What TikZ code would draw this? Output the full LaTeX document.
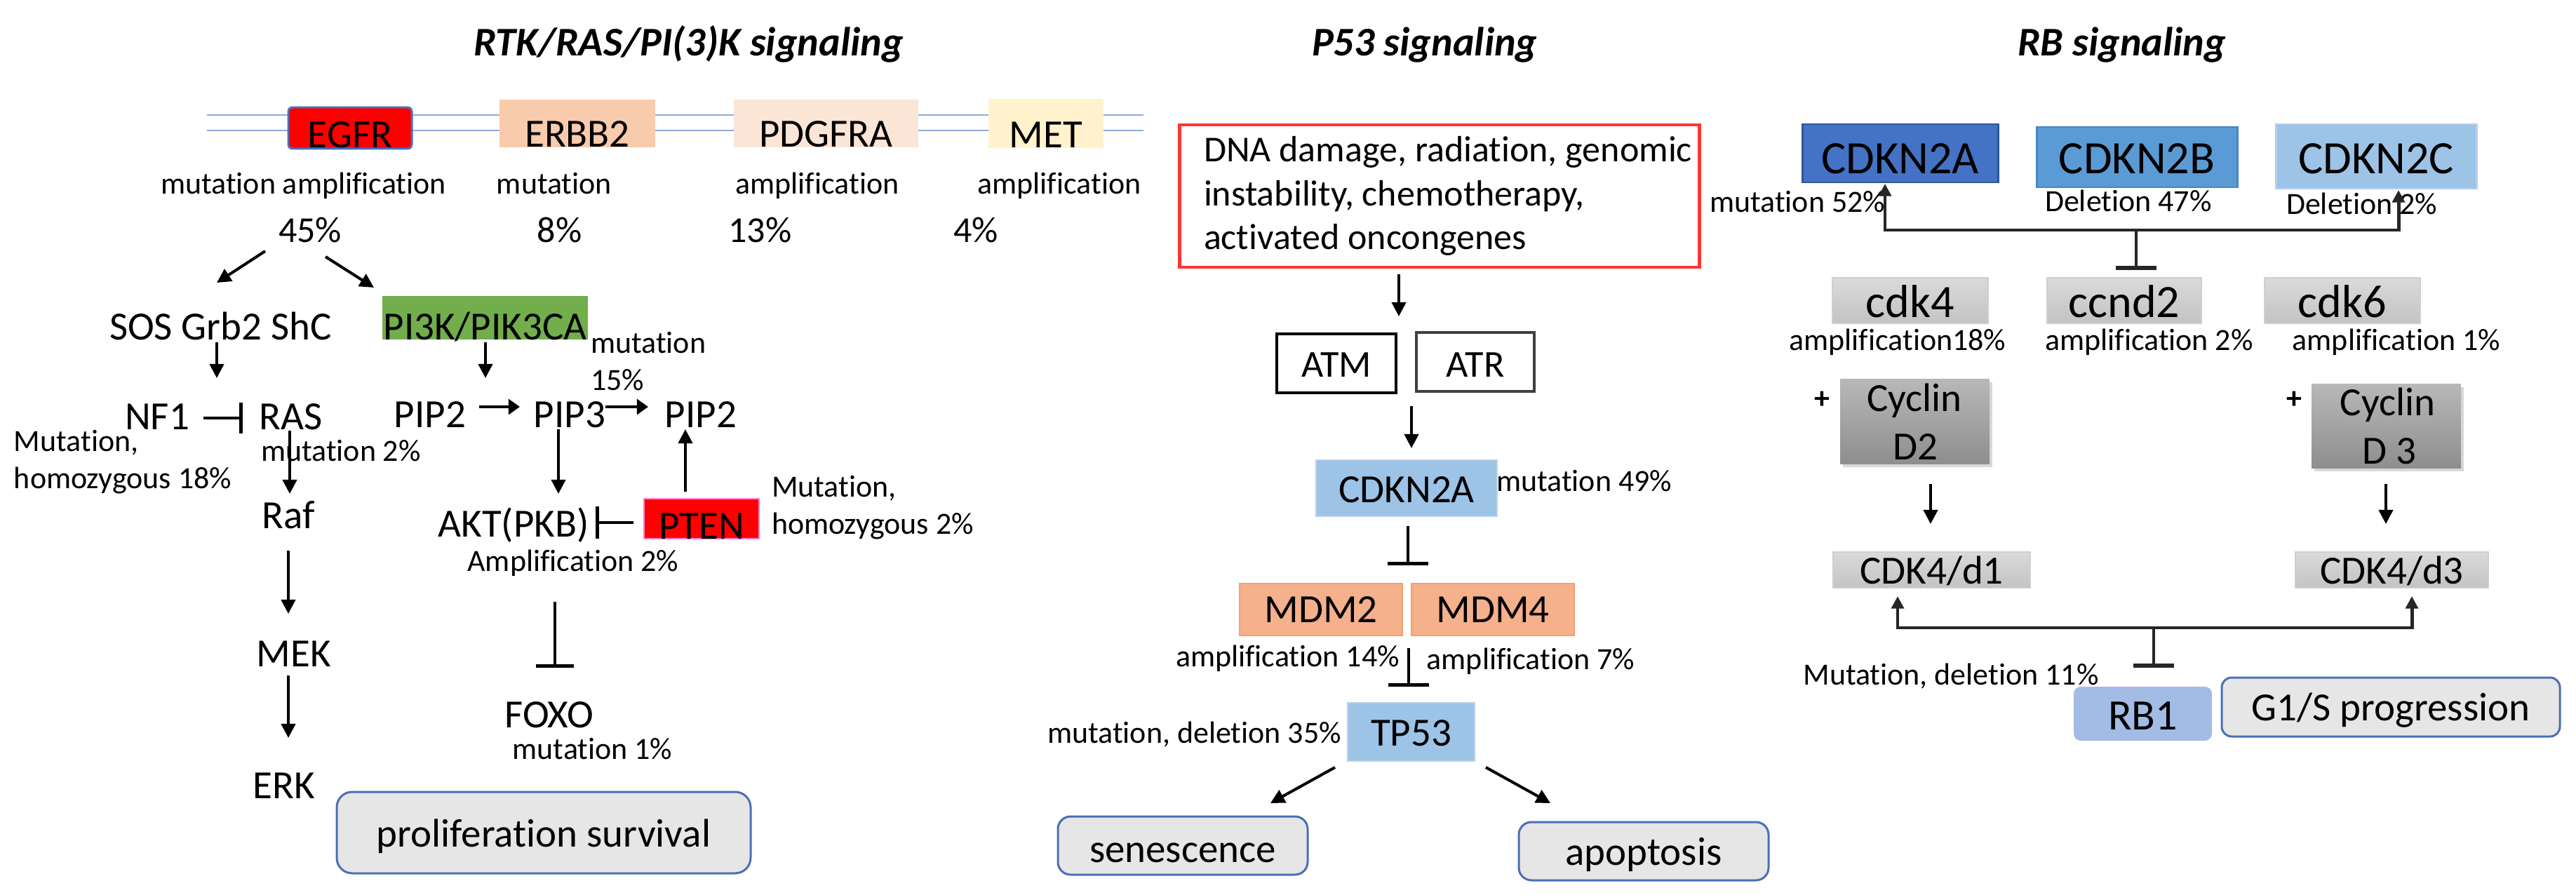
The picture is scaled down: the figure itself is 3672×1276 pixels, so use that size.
\documentclass[tikz,border=0pt]{standalone}
\usepackage{fontspec}
\setmainfont{Carlito}[Ligatures={NoCommon}]
\usetikzlibrary{arrows.meta,shadows}
\newdimen\upx \upx=0.01cm
\newcommand\fSm{\fontsize{12.5pt}{15pt}\selectfont}
\newcommand\fPc{\fontsize{14.8pt}{17.8pt}\selectfont}
\newcommand\fAt{\fontsize{15.4pt}{18.5pt}\selectfont}
\newcommand\fMd{\fontsize{16.2pt}{19.5pt}\selectfont}
\newcommand\fRb{\fontsize{17.6pt}{21pt}\selectfont}
\newcommand\fXl{\fontsize{18.8pt}{22.5pt}\selectfont}
\newcommand\fTi{\fontsize{16.5pt}{20pt}\selectfont\bfseries\itshape}
\definecolor{memb}{HTML}{8FAADC}
\definecolor{egfrB}{HTML}{4472C4}
\definecolor{erbb}{HTML}{F8CBAD}
\definecolor{pdgf}{HTML}{FBE5D6}
\definecolor{metc}{HTML}{FFF2CC}
\definecolor{pikg}{HTML}{72AE4C}
\definecolor{ptenB}{HTML}{FF80D0}
\definecolor{outB}{HTML}{4A6FB5}
\definecolor{outF}{HTML}{E7E6E6}
\definecolor{dnaR}{HTML}{FF3535}
\definecolor{ltblue}{HTML}{9DC3E6}
\definecolor{ltblueB}{HTML}{B7D1EE}
\definecolor{mdmF}{HTML}{F5B08C}
\definecolor{mdmB}{HTML}{F3A06E}
\definecolor{rbA}{HTML}{4472C4}
\definecolor{rbAB}{HTML}{2F5597}
\definecolor{rbB}{HTML}{5B9BD5}
\definecolor{rbBB}{HTML}{4A86C2}
\definecolor{rbC}{HTML}{9DC3E6}
\definecolor{rbCB}{HTML}{B4CFEE}
\definecolor{rbone}{HTML}{A3BCE6}
\definecolor{dk}{HTML}{262626}
\definecolor{gTop}{HTML}{DADADA}
\definecolor{gBot}{HTML}{C3C3C3}
\definecolor{gB}{HTML}{CFCFCF}
\definecolor{cTop}{HTML}{B8B8B8}
\definecolor{cBot}{HTML}{8E8E8E}
\begin{document}
\begin{tikzpicture}[x=0.01cm, y=-0.01cm,
  bx/.style n args={3}{minimum width=#1\upx, minimum height=#2\upx, text height=#3\upx, text depth=0pt, inner sep=0pt, outer sep=0pt, font=\fMd},
  tx/.style={inner sep=0pt, outer sep=0pt, anchor=base},
  txw/.style={inner sep=0pt, outer sep=0pt, anchor=base west},
  arr/.style={line width=1.14pt, -{Triangle[length=5.7pt,width=5.7pt]}},
  arrT/.style={line width=1.4pt, -{Triangle[length=4.6pt,width=6.2pt]}},
  inh/.style={line width=1.14pt, -{Bar[width=#1, line width=1.5pt]}},
  brk/.style={line width=1.4pt, draw=dk},
  btip/.style={-{Triangle[length=5pt,width=5pt]}},
  outbox/.style={fill=outF, draw=outB, line width=0.85pt},
  gbox/.style={top color=gTop, bottom color=gBot, draw=gB, line width=0.6pt},
  cbox/.style={top color=cTop, bottom color=cBot, drop shadow={opacity=0.3, shadow xshift=1pt, shadow yshift=-1.5pt}}
]
\fill[white] (0,0) rectangle (3672,1276);
\useasboundingbox (0,0) rectangle (3672,1276);

% ---------------- RTK / RAS / PI3K ----------------
\node[txw, font=\fTi] (t1) at (675,80) {RTK/RAS/PI(3)K signaling};
\draw[memb, line width=0.85pt] (295,164) -- (1630,164);
\draw[memb, line width=0.85pt] (295,186) -- (1630,186);
\node[bx={176}{59}{57}, fill=red, draw=egfrB, line width=0.85pt, rounded corners=6\upx] (egfr) at (499,182.5) {EGFR};
\node[bx={222}{68}{68}, fill=erbb] (erbb2) at (823,176) {ERBB2};
\node[bx={263}{66}{68}, fill=pdgf] (pdgfra) at (1177.5,176) {PDGFRA};
\node[bx={164}{66}{70}, fill=metc] (met) at (1491,176) {MET};
\node[tx, font=\fSm] (l1) at (432.5,277) {mutation amplification};
\node[tx, font=\fSm] (l2) at (790,277) {mutation};
\node[tx, font=\fSm] (l3) at (1165,277) {amplification};
\node[tx, font=\fSm] (l4) at (1510,277) {amplification};
\node[tx, font=\fPc] (p45) at (442,346) {45\%};
\node[tx, font=\fPc] (p8) at (797.5,346) {8\%};
\node[tx, font=\fPc] (p13) at (1083.5,346) {13\%};
\node[tx, font=\fPc] (p4) at (1391,346) {4\%};

\node[tx, font=\fMd] (sos) at (314.5,484) {SOS Grb2 ShC};
\node[bx={293}{60}{62}, fill=pikg] (pi3k) at (691.5,453) {PI3K/PIK3CA};
\node[txw, font=\fSm] (pm1) at (842,503) {mutation};
\node[txw, font=\fSm] (pm2) at (842,556) {15\%};
\node[tx, font=\fMd] (nf1) at (224,612) {NF1};
\node[tx, font=\fMd] (ras) at (415,612) {RAS};
\node[tx, font=\fMd] (pip2a) at (613,609) {PIP2};
\node[tx, font=\fMd] (pip3) at (812,609) {PIP3};
\node[tx, font=\fMd] (pip2b) at (999,609) {PIP2};
\node[txw, font=\fSm] (nfm1) at (20,643) {Mutation,};
\node[txw, font=\fSm] (nfm2) at (20,696) {homozygous 18\%};
\node[txw, font=\fSm] (rasm) at (372,657) {mutation 2\%};
\node[tx, font=\fMd] (raf) at (411,753) {Raf};
\node[tx, font=\fMd] (akt) at (732,765) {AKT(PKB)};
\node[bx={164}{47}{57}, fill=red, draw=ptenB, line width=0.5pt] (pten) at (1000,739.5) {PTEN};
\node[txw, font=\fSm] (ptm1) at (1100,708) {Mutation,};
\node[txw, font=\fSm] (ptm2) at (1100,761) {homozygous 2\%};
\node[tx, font=\fSm] (aktm) at (817,814) {Amplification 2\%};
\node[tx, font=\fMd] (mek) at (419,950) {MEK};
\node[tx, font=\fMd] (erk) at (405,1138) {ERK};
\node[tx, font=\fMd] (foxo) at (783,1037) {FOXO};
\node[tx, font=\fSm] (foxom) at (844.5,1082) {mutation 1\%};
\node[bx={590}{116}{40}, outbox, rounded corners=22\upx] (prolif) at (775,1187) {proliferation survival};

\draw[arr] ([shift={(-64,12)}]p45.base) -- ([shift={(-5.5,-81)}]sos.base);
\draw[arr] ([shift={(22,20)}]p45.base) -- ([shift={(-12,-12)}]pi3k.north west);
\draw[arr] ([shift={(-5.5,4)}]sos.base) -- ([shift={(-106,-73)}]ras.base);
\draw[arr] ([shift={(0.5,4)}]pi3k.south) -- ([shift={(79,-70)}]pip2a.base);
\draw[inh=12.5pt] ([shift={(66,-16)}]nf1.base) -- ([shift={(-69,-16)}]ras.base);
\draw[arrT] ([shift={(70,-29)}]pip2a.base) -- ([shift={(-71,-29)}]pip3.base);
\draw[arrT] ([shift={(51,-29)}]pip3.base) -- ([shift={(-75,-29)}]pip2b.base);
\draw[arr] ([shift={(-2,2)}]ras.base) -- ([shift={(2,-49)}]raf.base);
\draw[arr] ([shift={(-16,3)}]pip3.base) -- ([shift={(64,-61)}]akt.base);
\draw[arr] ([shift={(-23,-10)}]pten.north) -- ([shift={(-22,3)}]pip2b.base);
\draw[inh=13pt] ([shift={(-15,5.5)}]pten.west) -- ([shift={(117,-20)}]akt.base);
\draw[arr] ([shift={(0,32)}]raf.base) -- ([shift={(-8,-75)}]mek.base);
\draw[arr] ([shift={(-8,13)}]mek.base) -- ([shift={(6,-86)}]erk.base);
\draw[inh=15.4pt] ([shift={(59,93)}]akt.base) -- ([shift={(8,-85)}]foxo.base);

% ---------------- P53 ----------------
\node[txw, font=\fTi] (t2) at (1870,80) {P53 signaling};
\node[minimum width=741\upx, minimum height=203\upx, inner sep=0pt, outer sep=0pt, draw=dnaR, line width=1.42pt, fill=white] (dna) at (2051.5,279.5) {};
\node[txw, font=\fPc] (dna1) at (1716,231) {DNA damage, radiation, genomic};
\node[txw, font=\fPc] (dna2) at (1716,294) {instability, chemotherapy,};
\node[txw, font=\fPc] (dna3) at (1716,356) {activated oncongenes};
\node[bx={170}{84}{38}, draw=black, line width=1.14pt, font=\fAt] (atm) at (1905,518) {ATM};
\node[bx={168}{84}{42}, draw=black!75, line width=1.14pt, font=\fAt] (atr) at (2103,516) {ATR};
\node[bx={258}{80}{40}, fill=ltblue, draw=ltblueB, line width=0.5pt] (cdkm) at (2005,696) {CDKN2A};
\node[txw, font=\fSm] (cdkmm) at (2133,700) {mutation 49\%};
\node[bx={232}{74}{36}, fill=mdmF, draw=mdmB, line width=0.6pt] (mdm2) at (1883,869) {MDM2};
\node[bx={232}{74}{36}, fill=mdmF, draw=mdmB, line width=0.6pt] (mdm4) at (2128,869) {MDM4};
\node[tx, font=\fSm] (mdm2m) at (1835.5,950) {amplification 14\%};
\node[tx, font=\fSm] (mdm4m) at (2182,954) {amplification 7\%};
\node[bx={181}{83}{39}, fill=ltblue, draw=ltblueB, line width=0.5pt] (tp53) at (2011.5,1043.5) {TP53};
\node[tx, font=\fSm] (tp53m) at (1702.5,1059) {mutation, deletion 35\%};
\node[bx={356}{83}{47}, outbox, rounded corners=18\upx] (sen) at (1686,1205.5) {senescence};
\node[bx={356}{83}{39}, outbox, rounded corners=18\upx] (apo) at (2343,1213.5) {apoptosis};

\draw[arr] ([shift={(-57.5,10)}]dna.south) -- ([shift={(89,-25)}]atm.north);
\draw[arr] ([shift={(107,19)}]atm.south) -- ([shift={(7,-17)}]cdkm.north);
\draw[inh=16.5pt] ([shift={(2,14)}]cdkm.south) -- ([shift={(8,-26)}]mdm2.north east);
\draw[inh=16.5pt] ([shift={(9,18)}]mdm2.south east) -- ([shift={(-3.5,-23)}]tp53.north);
\draw[arr] ([shift={(-18,9)}]tp53.south west) -- ([shift={(125,-19)}]sen.north);
\draw[arr] ([shift={(16,9)}]tp53.south east) -- ([shift={(-133,-27)}]apo.north);

% ---------------- RB ----------------
\node[txw, font=\fTi] (t3) at (2876,80) {RB signaling};
\node[bx={279}{83}{59}, fill=rbA, draw=rbAB, line width=0.85pt, font=\fXl] (cdkA) at (2708.5,218.5) {CDKN2A};
\node[bx={286}{86}{48}, fill=rbB, draw=rbBB, line width=0.85pt, font=\fXl] (cdkB) at (3046,224) {CDKN2B};
\node[bx={286}{92}{50}, fill=rbC, draw=rbCB, line width=0.85pt, font=\fXl] (cdkC) at (3387,223) {CDKN2C};
\node[txw, font=\fSm] (cdkAm) at (2437,303) {mutation 52\%};
\node[txw, font=\fSm] (cdkBm) at (2915,301) {Deletion 47\%};
\node[txw, font=\fSm] (cdkCm) at (3259,305) {Deletion 2\%};
\node[bx={222}{65}{47}, gbox, font=\fXl] (cdk4) at (2723,428.5) {cdk4};
\node[bx={220}{65}{47}, gbox, font=\fXl] (ccnd2) at (3028,428.5) {ccnd2};
\node[bx={222}{65}{47}, gbox, font=\fXl] (cdk6) at (3339,428.5) {cdk6};
\node[tx, font=\fSm] (cdk4m) at (2705,499) {amplification18\%};
\node[tx, font=\fSm] (ccnd2m) at (3063.5,499) {amplification 2\%};
\node[tx, font=\fSm] (cdk6m) at (3416,499) {amplification 1\%};
\node[font={\fSm\bfseries}, inner sep=0pt] (plus1) at (2597,570) {+};
\node[font={\fSm\bfseries}, inner sep=0pt] (plus2) at (3270,570) {+};
\node[minimum width=213\upx, minimum height=121\upx, inner sep=0pt, outer sep=0pt, cbox] (cycD2) at (2729.5,600.5) {};
\node[tx, font=\fMd] (cycD2a) at (2729,586) {Cyclin};
\node[tx, font=\fMd] (cycD2b) at (2730,655) {D2};
\node[minimum width=213\upx, minimum height=120\upx, inner sep=0pt, outer sep=0pt, cbox] (cycD3) at (3401.5,607) {};
\node[tx, font=\fMd] (cycD3a) at (3403.5,592) {Cyclin};
\node[tx, font=\fMd] (cycD3b) at (3406,661) {D 3};
\node[bx={281}{51}{39}, gbox] (cdkd1) at (2753.5,812.5) {CDK4/d1};
\node[bx={275}{51}{39}, gbox] (cdkd3) at (3409.5,812.5) {CDK4/d3};
\node[bx={197}{77}{45}, fill=rbone, rounded corners=10\upx, font=\fRb] (rb1) at (3054.5,1017.5) {RB1};
\node[tx, font=\fSm] (rbm) at (2781,976) {Mutation, deletion 11\%};
\node[bx={482}{84}{38}, outbox, rounded corners=14\upx] (g1s) at (3408,1008) {G1/S progression};

\coordinate (j1) at ([shift={(17,-68)}]ccnd2.north);
\draw[brk, btip] (j1) -| ([shift={(-21.5,2)}]cdkA.south);
\draw[brk, btip] (j1) -| ([shift={(32,2)}]cdkC.south);
\draw[brk, -{Bar[width=16.3pt, line width=1.6pt]}] (j1) -- ([shift={(17,-11)}]ccnd2.north);
\draw[arr] ([shift={(22.5,29)}]cycD2.south) -- ([shift={(-1.5,-40)}]cdkd1.north);
\draw[arr] ([shift={(-0.5,23)}]cycD3.south) -- ([shift={(-8.5,-40)}]cdkd3.north);
\coordinate (j2) at ([shift={(15.5,-84)}]rb1.north);
\draw[brk, btip] (j2) -| ([shift={(-48.5,12)}]cdkd1.south);
\draw[brk, btip] (j2) -| ([shift={(28.5,12)}]cdkd3.south);
\draw[brk, -{Bar[width=16.3pt, line width=1.6pt]}] (j2) -- ([shift={(15.5,-27)}]rb1.north);
\end{tikzpicture}
\end{document}
